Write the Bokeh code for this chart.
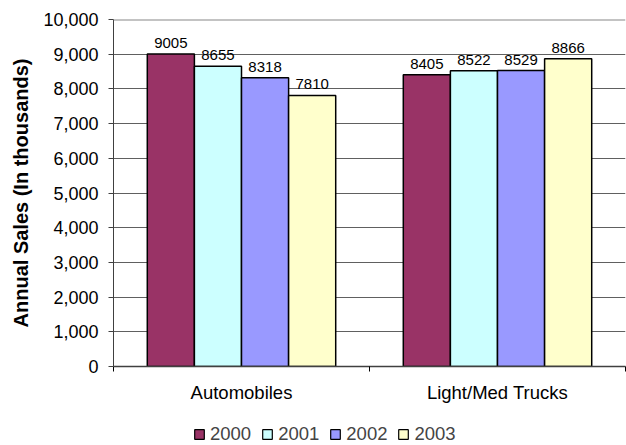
import numpy as np
from bokeh.plotting import figure
from bokeh.layouts import column
from bokeh.models import (ColumnDataSource, Range1d, FixedTicker, NumeralTickFormatter,
                          Legend, LegendItem, Span)
from bokeh.transform import dodge
from bokeh.core.properties import value
from bokeh.embed import file_html
from bokeh.resources import INLINE

categories = ["Automobiles", "Light/Med Trucks"]
years = ["2000", "2001", "2002", "2003"]
sales_2000 = [9005, 8405]
sales_2001 = [8655, 8522]
sales_2002 = [8318, 8529]
sales_2003 = [7810, 8866]
colors = ["#993366", "#CCFFFF", "#9999FF", "#FFFFCC"]
y_ticks = list(range(0, 10001, 1000))

series = [sales_2000, sales_2001, sales_2002, sales_2003]
xpos = list(np.arange(len(categories)) + 0.5)

FONT = "Liberation Sans"

p = figure(frame_width=512, frame_height=347, output_backend="svg", toolbar_location=None,
           x_range=Range1d(0, len(categories)), y_range=Range1d(0, 10000),
           min_border_left=113, min_border_right=1, min_border_top=19, min_border_bottom=44)
p.outline_line_color = None
p.background_fill_color = "white"
p.border_fill_color = "white"

# separate strip that carries the legend below the chart
lg = figure(width=626, height=35, output_backend="svg", toolbar_location=None,
            x_range=Range1d(0, len(categories)), y_range=Range1d(-2, -1),
            x_axis_type=None, y_axis_type=None,
            min_border_left=0, min_border_right=0, min_border_top=0, min_border_bottom=0)
lg.outline_line_color = None
lg.grid.visible = False

bw = 0.184
offsets = [-1.5 * bw, -0.5 * bw, 0.5 * bw, 1.5 * bw]
items = []
for yr, vals, col, off in zip(years, series, colors, offsets):
    src = ColumnDataSource(dict(x=xpos, top=vals, lab=[str(v) for v in vals]))
    p.vbar(x=dodge("x", off, range=p.x_range), top="top", width=bw, source=src,
           fill_color=col, line_color="black", line_width=1.5)
    p.text(x=dodge("x", off, range=p.x_range), y="top", text="lab", source=src,
           text_align="center", text_baseline="alphabetic", y_offset=-11,
           text_font=value(FONT), text_font_size="15px", text_color="black")
    # same series in the legend strip, hidden; only its swatch is shown in the legend
    rl = lg.vbar(x="x", top="top", width=bw, source=src, visible=False,
                 fill_color=col, line_color="black", line_width=1.2)
    items.append(LegendItem(label=yr, renderers=[rl]))

# y axis
p.yaxis.ticker = FixedTicker(ticks=y_ticks)
p.yaxis.formatter = NumeralTickFormatter(format="0,0")
p.yaxis.axis_label = "Annual Sales (In thousands)"
p.yaxis.axis_label_text_font = FONT
p.yaxis.axis_label_text_font_style = "bold"
p.yaxis.axis_label_text_font_size = "20px"
p.yaxis.axis_label_text_color = "black"
p.yaxis.axis_label_standoff = 8
p.yaxis.major_label_text_font = FONT
p.yaxis.major_label_text_font_size = "18px"
p.yaxis.major_label_text_color = "black"
p.yaxis.major_label_standoff = 10
p.yaxis.axis_line_color = "#404040"
p.yaxis.major_tick_line_color = "#404040"
p.yaxis.major_tick_out = 5
p.yaxis.major_tick_in = 0
p.yaxis.minor_tick_line_color = None

# x axis
p.xaxis.ticker = FixedTicker(ticks=xpos, minor_ticks=[0, 1, 2])
p.xaxis.major_label_overrides = {float(x): c for x, c in zip(xpos, categories)}
p.xaxis.major_label_text_font = FONT
p.xaxis.major_label_text_font_size = "18.5px"
p.xaxis.major_label_text_color = "black"
p.xaxis.major_label_standoff = 10
p.xaxis.major_tick_line_color = None
p.xaxis.major_tick_out = 0
p.xaxis.major_tick_in = 0
p.xaxis.minor_tick_line_color = "black"
p.xaxis.minor_tick_out = 5
p.xaxis.minor_tick_in = 0
p.xaxis.axis_line_color = "#404040"
p.xaxis.axis_line_width = 1.5

p.xgrid.grid_line_color = None
p.ygrid.ticker = FixedTicker(ticks=y_ticks)
p.ygrid.grid_line_color = "#606060"
p.ygrid.grid_line_width = 1
p.add_layout(Span(location=p.y_range.end, dimension="width",
                  line_color="#888888", line_width=2))

legend = Legend(items=items, orientation="horizontal", location=(80, 0),
                label_text_font=FONT, label_text_font_size="18.5px",
                glyph_width=12, glyph_height=12, label_standoff=5, spacing=10,
                label_height=12, border_line_color=None, background_fill_alpha=0,
                margin=0, padding=0, click_policy="none")
lg.add_layout(legend, "center")

layout = column(p, lg, spacing=0)
open("out.html", "w").write(file_html(layout, INLINE))
